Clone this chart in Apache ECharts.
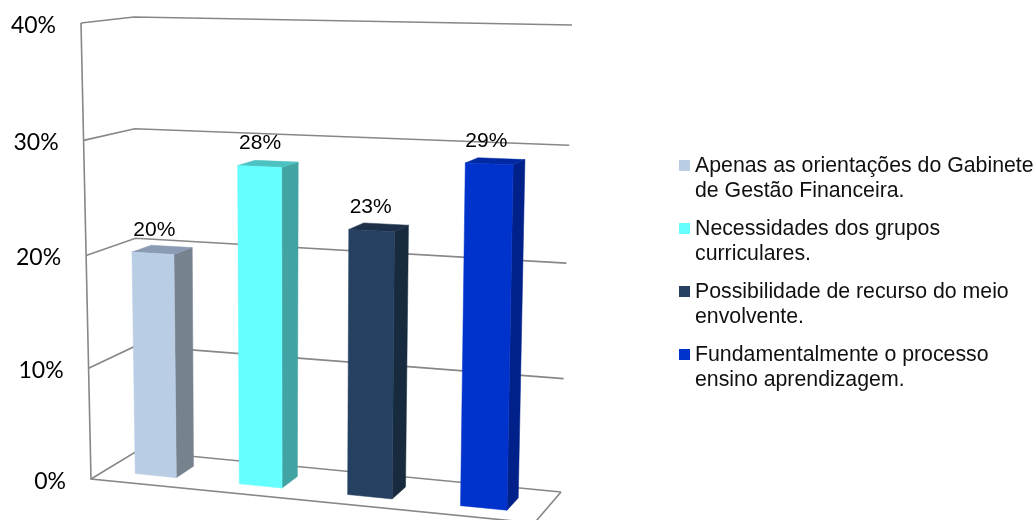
<!DOCTYPE html>
<html>
<head>
<meta charset="utf-8">
<style>html,body{margin:0;padding:0;background:#fff}#chart{width:1035px;height:520px}</style>
<script src="https://cdn.jsdelivr.net/npm/echarts@6/dist/echarts.min.js"></script>
</head>
<body>
<div id="chart"></div>
<script>
// Survey answers, in percent
const categories = [
  'Apenas as orientações do Gabinete\nde Gestão Financeira.',
  'Necessidades dos grupos\ncurriculares.',
  'Possibilidade de recurso do meio\nenvolvente.',
  'Fundamentalmente o processo\nensino aprendizagem.'
];
const values = [20, 28, 23, 29];
const tickValues = [0, 10, 20, 30, 40];
const tickLabels = ['0%', '10%', '20%', '30%', '40%'];

const frontColors = ['#b9cde5', '#66ffff', '#254061', '#0033cc'];
const topColors = ['#8a9bb3', '#4cc2c2', '#1c3149', '#0029a3'];
const sideColors = ['#77828f', '#42a3a3', '#172a3e', '#00218a'];

// Corners of the 3D box on screen: floor and ceiling, ordered back-left, back-right, front-right, front-left
const floorQuad = [[137, 451], [561, 492], [534.4, 523], [91, 479]];
const ceilQuad = [[134, 17], [572, 25], [544, 31], [81, 23]];
const heightFalloff = 1.04;
const widthFalloff = 1.085;
const barDepth = [0.3, 0.7];
const barHalfWidth = 0.05;
const lineColor = '#878787';

function mix(a, b, k) {
  return [a[0] + (b[0] - a[0]) * k, a[1] + (b[1] - a[1]) * k];
}

// Position inside one of the horizontal quads; v runs from back to front
function quadPoint(q, u, v) {
  return mix(mix(q[0], q[3], v), mix(q[1], q[2], v), u);
}

// u: across the floor, v: back to front, t: share of the value axis
function project(u, v, t) {
  const uu = u / (u + widthFalloff * (1 - u));
  const k = t / (t + heightFalloff * (1 - t));
  return mix(quadPoint(floorQuad, uu, v), quadPoint(ceilQuad, uu, v), k);
}

// Turns axis pixel positions into box coordinates
function toBox(params, pt) {
  const g = params.coordSys;
  return [(pt[0] - g.x) / g.width, (g.y + g.height - pt[1]) / g.height];
}

function renderWall(params, api) {
  const t = toBox(params, api.coord([0, api.value(1)]))[1];
  const style = { stroke: lineColor, lineWidth: 1.6, fill: null };
  const edge = project(0, 1, t);
  const children = [{
    type: 'polyline',
    shape: { points: [edge, project(0, 0, t), project(1, 0, t)] },
    style
  }, {
    type: 'text',
    style: {
      text: tickLabels[params.dataIndex],
      x: edge[0] - 25, y: edge[1] + 2.5,
      align: 'right', verticalAlign: 'middle',
      font: '23px Lato', fill: '#000'
    }
  }];
  if (params.dataIndex === 0) {
    children.push({
      type: 'polyline',
      shape: { points: [project(0, 1, 1), project(0, 1, 0), project(1, 1, 0), project(1, 0, 0)] },
      style
    });
  }
  return { type: 'group', children };
}

function barRenderer(idx) {
  return function (params, api) {
    const base = toBox(params, api.coord([api.value(0), 0]));
    const head = toBox(params, api.coord([api.value(0), api.value(1)]));
    const u0 = base[0] - barHalfWidth, u1 = base[0] + barHalfWidth;
    const [vb, vf] = barDepth;
    const t = head[1];
    const poly = (pts, fill) => ({ type: 'polygon', shape: { points: pts }, style: { fill, stroke: fill, lineWidth: 0.5 } });
    const topMid = project(base[0], vf, t);
    const footMid = project(base[0], vf, 0);
    return {
      type: 'group',
      children: [
        poly([project(u1, vf, 0), project(u1, vb, 0), project(u1, vb, t), project(u1, vf, t)], sideColors[idx]),
        poly([project(u0, vf, t), project(u1, vf, t), project(u1, vb, t), project(u0, vb, t)], topColors[idx]),
        poly([project(u0, vf, 0), project(u1, vf, 0), project(u1, vf, t), project(u0, vf, t)], frontColors[idx]),
        {
          type: 'text',
          style: {
            text: api.value(1) + '%',
            x: (topMid[0] + footMid[0]) / 2, y: topMid[1] - 23,
            align: 'center', verticalAlign: 'middle',
            font: '21px "Liberation Sans"', fill: '#000'
          }
        }
      ]
    };
  };
}

const series = [{
  type: 'custom',
  silent: true,
  renderItem: renderWall,
  encode: { x: 0, y: 1 },
  data: tickValues.map(v => [categories[0], v]),
  z: 1
}];
categories.forEach((name, i) => {
  series.push({
    type: 'custom',
    name,
    renderItem: barRenderer(i),
    encode: { x: 0, y: 1 },
    itemStyle: { color: frontColors[i] },
    data: [[name, values[i]]],
    z: 2 + i
  });
});

const chart = echarts.init(document.getElementById('chart'), null, { renderer: 'canvas' });
chart.setOption({
  animation: false,
  backgroundColor: '#fff',
  grid: { left: 91, top: 23, width: 470, height: 456 },
  xAxis: { type: 'category', data: categories, show: false },
  yAxis: { type: 'value', min: 0, max: 40, interval: 10, show: false },
  legend: {
    left: 679,
    top: 154,
    orient: 'vertical',
    padding: 0,
    itemGap: 14,
    itemWidth: 11,
    itemHeight: 49,
    // Square sits beside the first text line; the outer points only stretch the icon box
    icon: 'path://M0 0L0 0M0 6L11 6L11 17L0 17ZM0 49L0 49',
    selectedMode: false,
    textStyle: { fontFamily: 'Liberation Sans', fontSize: 21.3, lineHeight: 24.5, color: '#111' },
    data: categories
  },
  series
});
</script>
</body>
</html>
